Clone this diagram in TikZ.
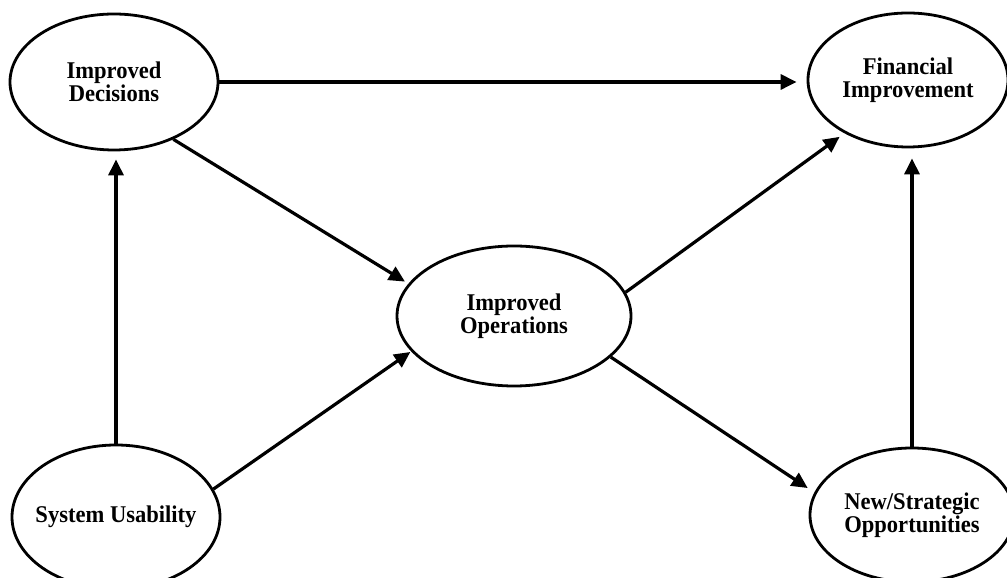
\documentclass[tikz,border=0pt]{standalone}
\usepackage{fontspec}
\newfontfamily\labelfont{Liberation Serif}[FakeStretch=0.94]
\usetikzlibrary{shapes.geometric,arrows.meta}
\begin{document}
\begin{tikzpicture}[x=1pt,y=1pt,
  bub/.style={draw,ellipse,line width=2.8pt,inner sep=-40pt,align=center,
    font=\labelfont\bfseries\fontsize{24}{23.5}\selectfont},
  conn/.style={line width=3.2pt,-{Triangle[length=16pt,width=15pt]}}]
\useasboundingbox (0,0) rectangle (1007,578);
\begin{scope}
\clip (0,0) rectangle (1007,578);
\node[bub,minimum width=208pt,minimum height=136pt] (D) at (114,496) {Improved\\Decisions};
\node[bub,minimum width=200pt,minimum height=134pt] (F) at (908,498) {Financial\\Improvement};
\node[bub,minimum width=234pt,minimum height=140pt] (O) at (514,262) {Improved\\Operations};
\node[bub,minimum width=208pt,minimum height=144pt] (U) at (116,61) {System Usability};
\node[bub,minimum width=204pt,minimum height=134pt] (S) at (912,63) {New/Strategic\\Opportunities};
\draw[conn,shorten >=10pt] (D.east) -- (D.east -| F.west);
\draw[conn,shorten >=4pt] (D.-44) -- (O.163);
\draw[conn,shorten >=8pt] (U.north) -- (U.north |- D.south);
\draw[conn,shorten >=1pt] (U.16.5) -- (O.199.6);
\draw[conn,shorten >=6pt] (O.12) -- (F.220.8);
\draw[conn,shorten >=8pt] (O.-23.5) -- (S.167.6);
\draw[conn,shorten >=10pt] (S.north) -- (S.north |- F.south);
\end{scope}
\end{tikzpicture}
\end{document}
